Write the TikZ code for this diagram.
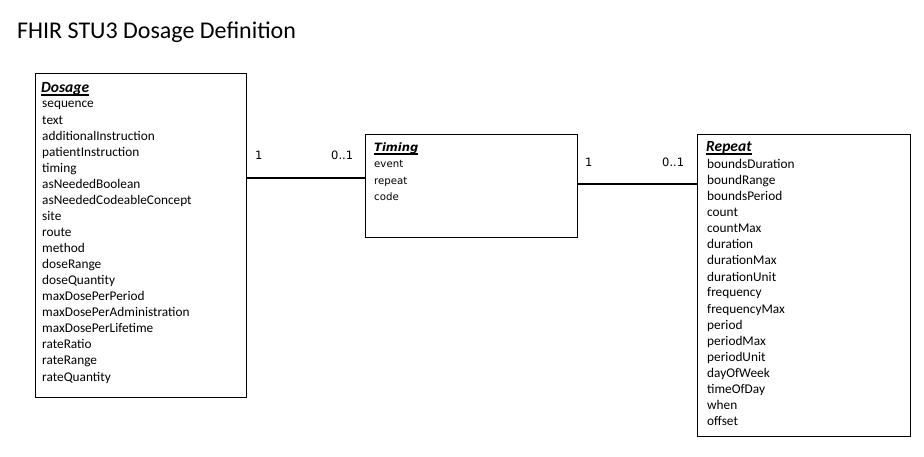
\documentclass[tikz,border=0pt]{standalone}
\usepackage{fontspec}
\setmainfont{Carlito}
\newfontfamily\verdanafont{DejaVu Sans}
\newcommand{\titleline}[1]{\setbox0\hbox{#1}\rlap{\rule[-2.8pt]{\wd0}{1.3pt}}\box0}
\begin{document}
\begin{tikzpicture}[x=1pt,y=-1pt,
  classbox/.style={draw, line width=0.8pt, anchor=north west, inner sep=0pt},
  classtitle/.style={anchor=base west, inner sep=0pt, font=\fontsize{15.5}{18}\selectfont\bfseries\itshape},
  attr/.style={anchor=base west, inner sep=0pt, font=\fontsize{13.3}{16}\selectfont},
  smalltitle/.style={anchor=base west, inner sep=0pt, font=\verdanafont\fontsize{11.5}{14}\selectfont\bfseries\itshape},
  smallattr/.style={anchor=base west, inner sep=0pt, font=\verdanafont\fontsize{10.2}{12}\selectfont},
  mult/.style={anchor=base west, inner sep=0pt, font=\verdanafont\fontsize{11.5}{13}\selectfont},
  assoc/.style={line width=2.6pt}]

\useasboundingbox (0,0) rectangle (924,457);

% Heading
\node [anchor=base west, inner sep=0pt, font=\fontsize{24}{28}\selectfont] (heading) at (17,39) {FHIR STU3 Dosage Definition};

% Class boxes
\node [classbox, minimum width=211pt, minimum height=324pt] (dosage) at (35,73) {};
\node [classbox, minimum width=212pt, minimum height=103pt] (timing) at (365,134) {};
\node [classbox, minimum width=213pt, minimum height=302pt] (repeat) at (697,134) {};

% Dosage attributes
\node [classtitle] (dosage-title) at (41,93) {\titleline{Dosage}};
\foreach \attrname [count=\i] in {sequence, text, additionalInstruction, patientInstruction, timing, asNeededBoolean, asNeededCodeableConcept, site, route, method, doseRange, doseQuantity, maxDosePerPeriod, maxDosePerAdministration, maxDosePerLifetime, rateRatio, rateRange, rateQuantity}
  \node [attr] (dosage-\i) at (42,{108+16.06*(\i-1)}) {\attrname};

% Timing attributes
\node [smalltitle] (timing-title) at (374,152) {\titleline{Timing}};
\foreach \attrname [count=\i] in {event, repeat, code}
  \node [smallattr] (timing-\i) at (374,{168+16.5*(\i-1)}) {\attrname};

% Repeat attributes
\node [classtitle] (repeat-title) at (706,152) {\titleline{Repeat}};
\foreach \attrname [count=\i] in {boundsDuration, boundRange, boundsPeriod, count, countMax, duration, durationMax, durationUnit, frequency, frequencyMax, period, periodMax, periodUnit, dayOfWeek, timeOfDay, when, offset}
  \node [attr] (repeat-\i) at (707,{169+16*(\i-1)}) {\attrname};

% Associations with multiplicities
\draw [assoc] (dosage.east |- 0,178) -- (timing.west |- 0,178);
\node [mult] (dosage-mult) at (255,160) {1};
\node [mult] (timing-mult) at (331,160) {0..1};

\draw [assoc] (timing.east |- 0,184) -- (repeat.west |- 0,184);
\node [mult] (timing-repeat-mult) at (585,167) {1};
\node [mult] (repeat-mult) at (662,167) {0..1};

\end{tikzpicture}
\end{document}
